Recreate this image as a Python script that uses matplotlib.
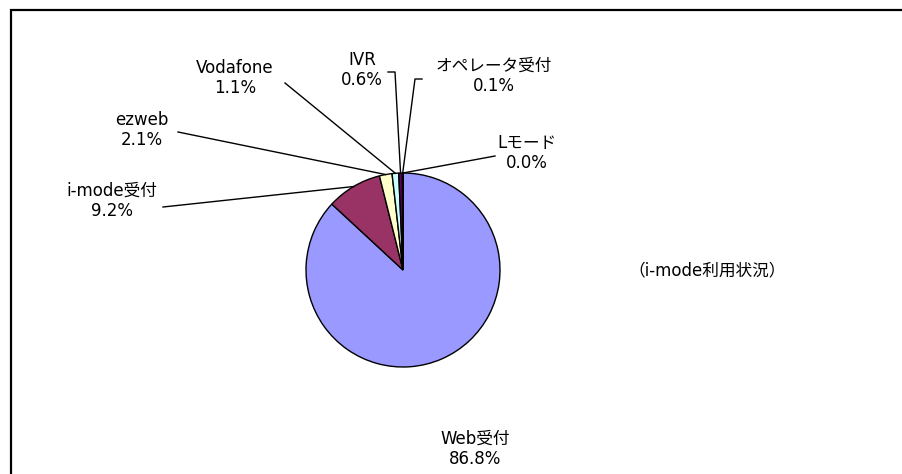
import matplotlib
matplotlib.use("Agg")
import matplotlib.pyplot as plt
import numpy as np

plt.rcParams['font.family'] = ['DejaVu Sans', 'Noto Sans CJK JP']

W, H = 902, 474

labels = ['Web受付', 'i-mode受付', 'ezweb', 'Vodafone', 'IVR', 'オペレータ受付', 'Lモード']
values = [86.8, 9.2, 2.1, 1.1, 0.6, 0.1, 0.0]
colors = ['#9999FF', '#993366', '#FFFFCC', '#CCFFFF', '#660066', '#FF8080', '#0066CC']
note = '（i-mode利用状況）'

# label text centres (pixels from top-left) and leader start points
label_pos = {
    'Web受付': (475, 449),
    'i-mode受付': (112, 201),
    'ezweb': (142, 130),
    'Vodafone': (235, 78),
    'IVR': (362, 70),
    'オペレータ受付': (494, 76),
    'Lモード': (527, 153),
}
leaders = {
    'i-mode受付': [(163, 207)],
    'ezweb': [(178, 132)],
    'Vodafone': [(285, 83)],
    'IVR': [(388, 72), (395, 72)],
    'オペレータ受付': [(422, 79), (415, 79)],
    'Lモード': [(495, 156)],
}

cx, cy, r = 403, 270, 97


def Y(y):
    return H - y


fig = plt.figure(figsize=(W / 100, H / 100), dpi=100)
ax = fig.add_axes([0, 0, 1, 1])

wedges, _ = ax.pie(values, colors=colors, startangle=90, counterclock=False,
                   center=(cx, Y(cy)), radius=r, normalize=True,
                   wedgeprops=dict(edgecolor='black', linewidth=1.0))

# pie() resets the limits, so set them afterwards
ax.set_xlim(0, W)
ax.set_ylim(0, H)
ax.set_aspect('equal')
ax.axis('off')

# outer frame (only top and left visible in the picture)
ax.add_patch(plt.Rectangle((11, Y(10) - 600), 1000, 600, fill=False,
                           edgecolor='black', linewidth=1.6, clip_on=True))

for lab, w in zip(labels, wedges):
    val = values[labels.index(lab)]
    tx, ty = label_pos[lab]
    ax.text(tx, Y(ty), f"{lab}\n{val:.1f}%", ha='center', va='center',
            fontsize=12, linespacing=1.2, color='black')
    if lab in leaders:
        mid = np.radians((w.theta1 + w.theta2) / 2)
        end = (cx + r * np.cos(mid), Y(cy) + r * np.sin(mid))
        pts = [(x, Y(y)) for x, y in leaders[lab]] + [end]
        xs, ys = zip(*pts)
        ax.plot(xs, ys, color='black', linewidth=1.0)

ax.text(707, Y(270), note, ha='center', va='center', fontsize=12)

fig.savefig('out.png', dpi=100)
